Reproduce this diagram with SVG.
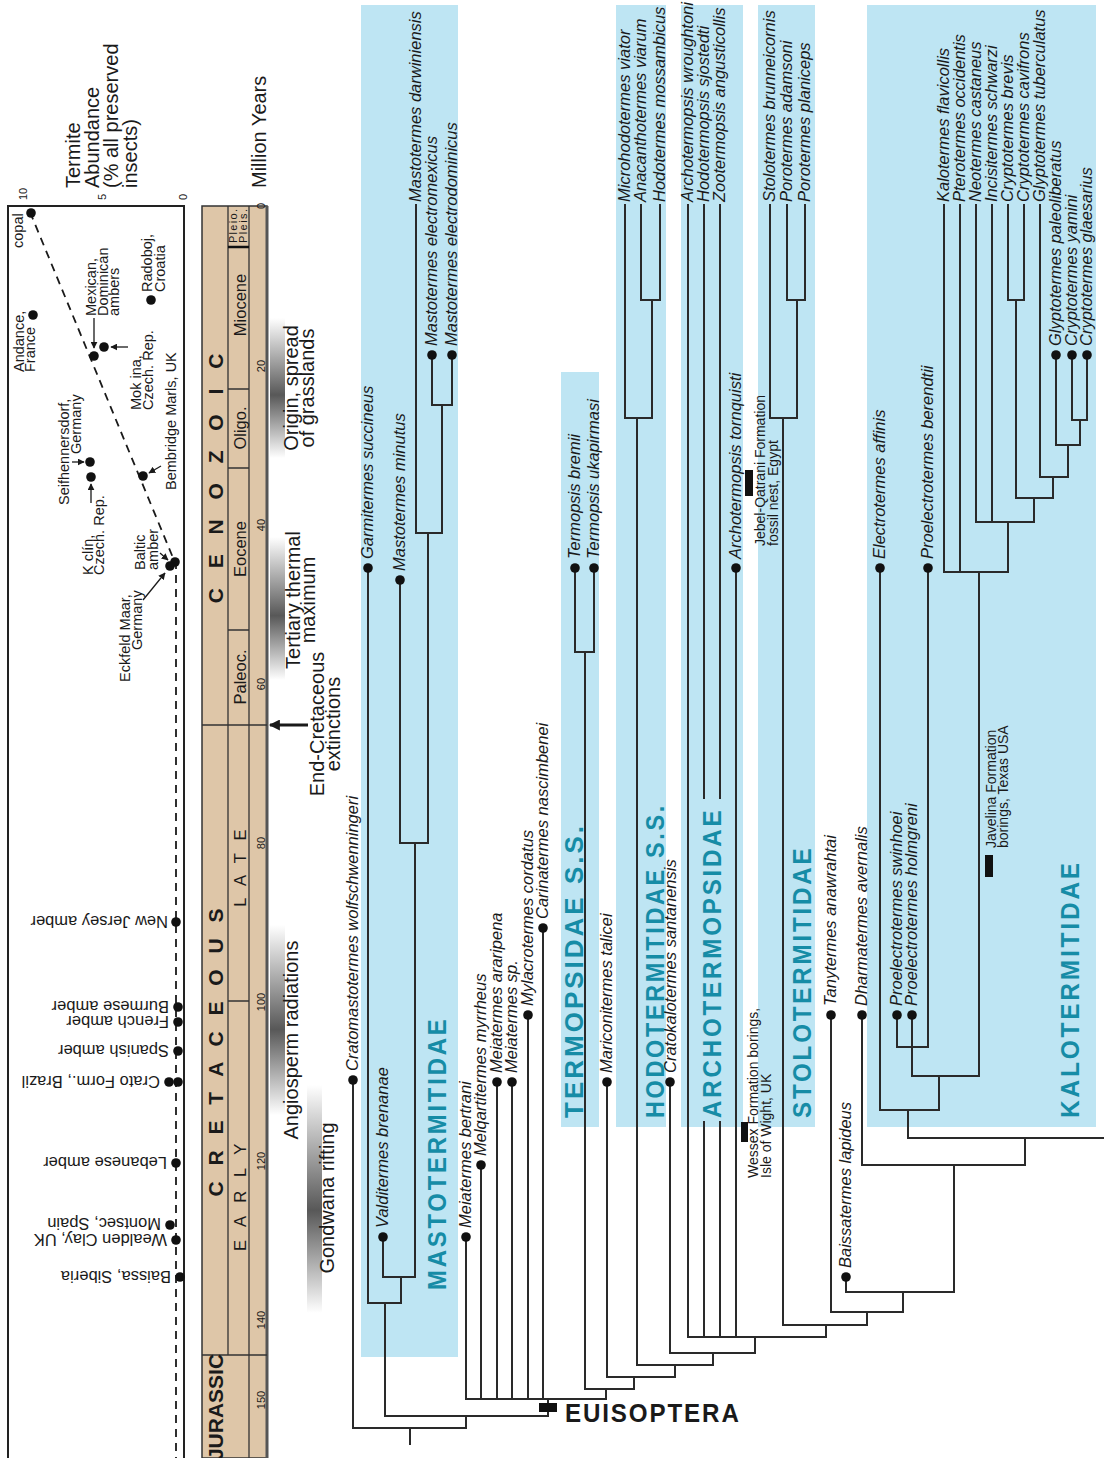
<svg xmlns="http://www.w3.org/2000/svg" width="1104" height="1458" viewBox="0 0 1104 1458">
<defs>
<style>
.ln{stroke:#2a2a2a;stroke-width:2;fill:none;stroke-linecap:square}
.lb{font-family:"Liberation Sans",Arial,sans-serif;font-style:italic;font-size:16.5px;fill:#1a1a1a}
.grp{font-family:"Liberation Sans",Arial,sans-serif;font-weight:bold;font-size:26px;fill:#168CA6;letter-spacing:3px}
.ann{font-family:"Liberation Sans",Arial,sans-serif;font-size:20px;fill:#1a1a1a}
.loc{font-family:"Liberation Sans",Arial,sans-serif;font-size:14.5px;fill:#1a1a1a}
.inv{font-family:"Liberation Sans",Arial,sans-serif;font-size:16.5px;fill:#1a1a1a}
.fm{font-family:"Liberation Sans",Arial,sans-serif;font-size:14px;fill:#1a1a1a}
.era{font-family:"Liberation Sans",Arial,sans-serif;font-weight:bold;font-size:21px;fill:#1a1a1a}
.ep{font-family:"Liberation Sans",Arial,sans-serif;font-size:16.5px;fill:#1a1a1a}
.tk{font-family:"Liberation Sans",Arial,sans-serif;font-size:11px;fill:#1a1a1a}
.box{fill:#BEE5F3}
.dot{fill:#111}
.dash{stroke:#1a1a1a;stroke-width:1.8;fill:none;stroke-dasharray:8 6}
.arr{stroke:#1a1a1a;stroke-width:1.3;fill:none;marker-end:url(#ah)}
</style>
<marker id="ah" viewBox="0 0 10 10" refX="9" refY="5" markerWidth="7" markerHeight="7" markerUnits="userSpaceOnUse" orient="auto"><path d="M0,0 L10,5 L0,10 z" fill="#1a1a1a"/></marker>
<marker id="ahb" viewBox="0 0 10 10" refX="9" refY="5" markerWidth="12" markerHeight="11" markerUnits="userSpaceOnUse" orient="auto"><path d="M0,0 L10,5 L0,10 z" fill="#1a1a1a"/></marker>
<linearGradient id="fade" x1="0" y1="0" x2="0" y2="1"><stop offset="0" stop-color="#ffffff"/><stop offset="0.55" stop-color="#585858"/><stop offset="1" stop-color="#ffffff"/></linearGradient>
</defs>
<rect width="1104" height="1458" fill="#ffffff"/>

<g id="abundance-panel">
<path d="M8 1458V206H184V1458" fill="none" stroke="#222" stroke-width="2"/>
<path class="dash" d="M30 212L176 565V1458"/>
<text class="tk" x="27" y="200" transform="rotate(-90 27 200)">10</text>
<text class="tk" x="106" y="200" transform="rotate(-90 106 200)">5</text>
<text class="tk" x="187" y="200" transform="rotate(-90 187 200)">0</text>
<text class="ann" x="80" y="188" transform="rotate(-90 80 188)">Termite</text>
<text class="ann" x="99" y="188" transform="rotate(-90 99 188)">Abundance</text>
<text class="ann" x="118" y="188" transform="rotate(-90 118 188)">(% all preserved</text>
<text class="ann" x="137" y="188" transform="rotate(-90 137 188)">insects)</text>
</g>

<g id="fossil-sites">
<circle class="dot" cx="31" cy="213" r="4.8"/>
<circle class="dot" cx="33" cy="315" r="4.8"/>
<circle class="dot" cx="94" cy="356" r="4.8"/>
<circle class="dot" cx="104" cy="347" r="4.8"/>
<circle class="dot" cx="151" cy="300" r="4.8"/>
<circle class="dot" cx="90" cy="462" r="4.8"/>
<circle class="dot" cx="91" cy="477" r="4.8"/>
<circle class="dot" cx="143" cy="476" r="4.8"/>
<circle class="dot" cx="175" cy="562" r="4.8"/>
<circle class="dot" cx="170" cy="566" r="4.8"/>
<circle class="dot" cx="176" cy="922" r="4.8"/>
<circle class="dot" cx="178" cy="1007" r="4.8"/>
<circle class="dot" cx="178" cy="1022" r="4.8"/>
<circle class="dot" cx="178" cy="1051" r="4.8"/>
<circle class="dot" cx="169" cy="1082" r="4.8"/>
<circle class="dot" cx="178" cy="1082" r="4.8"/>
<circle class="dot" cx="176" cy="1163" r="4.8"/>
<circle class="dot" cx="170" cy="1225" r="4.8"/>
<circle class="dot" cx="176" cy="1240" r="4.8"/>
<circle class="dot" cx="180" cy="1277" r="4.8"/>
<path class="arr" d="M94 318V348"/>
<path class="arr" d="M128 347H111"/>
<path class="arr" d="M161 466L149 473"/>
<path class="arr" d="M72 462H84"/>
<path class="arr" d="M91 503V484"/>
<path class="arr" d="M160 553L168 560"/>
<path class="arr" d="M143 600L165 573"/>
<text class="loc" x="23" y="248" transform="rotate(-90 23 248)">copal</text>
<text class="loc" x="24" y="372" transform="rotate(-90 24 372)">Andance,</text>
<text class="loc" x="35" y="372" transform="rotate(-90 35 372)">France</text>
<text class="loc" x="96" y="316" transform="rotate(-90 96 316)">Mexican,</text>
<text class="loc" x="108" y="316" transform="rotate(-90 108 316)">Dominican</text>
<text class="loc" x="119" y="316" transform="rotate(-90 119 316)">ambers</text>
<text class="loc" x="141" y="410" transform="rotate(-90 141 410)">Mok ina,</text>
<text class="loc" x="153" y="410" transform="rotate(-90 153 410)">Czech. Rep.</text>
<text class="loc" x="152" y="292" transform="rotate(-90 152 292)">Radoboj,</text>
<text class="loc" x="165" y="292" transform="rotate(-90 165 292)">Croatia</text>
<text class="loc" x="176" y="490" transform="rotate(-90 176 490)">Bembridge Marls, UK</text>
<text class="loc" x="69" y="505" transform="rotate(-90 69 505)">Seifhennersdorf,</text>
<text class="loc" x="81" y="454" transform="rotate(-90 81 454)">Germany</text>
<text class="loc" x="93" y="575" transform="rotate(-90 93 575)">K clín,</text>
<text class="loc" x="104" y="575" transform="rotate(-90 104 575)">Czech. Rep.</text>
<text class="loc" x="145" y="570" transform="rotate(-90 145 570)">Baltic</text>
<text class="loc" x="158" y="570" transform="rotate(-90 158 570)">amber</text>
<text class="loc" x="130" y="682" transform="rotate(-90 130 682)">Eckfeld Maar,</text>
<text class="loc" x="142" y="650" transform="rotate(-90 142 650)">Germany</text>
<text class="inv" transform="translate(168 916) rotate(180)">New Jersey amber</text>
<text class="inv" transform="translate(169 1001) rotate(180)">Burmese amber</text>
<text class="inv" transform="translate(169 1016) rotate(180)">French amber</text>
<text class="inv" transform="translate(169 1045) rotate(180)">Spanish amber</text>
<text class="inv" transform="translate(160 1076) rotate(180)">Crato Form., Brazil</text>
<text class="inv" transform="translate(167 1157) rotate(180)">Lebanese amber</text>
<text class="inv" transform="translate(161 1218) rotate(180)">Montsec, Spain</text>
<text class="inv" transform="translate(167 1234) rotate(180)">Wealden Clay, UK</text>
<text class="inv" transform="translate(171 1271) rotate(180)">Baissa, Siberia</text>
</g>

<g id="timescale">
<rect x="202" y="206" width="65" height="1252" fill="#DEC6A8" stroke="#333" stroke-width="1.5"/>
<line x1="267" y1="206" x2="267" y2="1458" stroke="#555" stroke-width="3"/>
<path d="M228 206V1355M249 206V1458M202 725H267M202 1355H267M228 389H249M228 468H249M228 630H249M228 1001H249" stroke="#333" stroke-width="1.3" fill="none"/>
<path d="M228 247H249" stroke="#111" stroke-width="2.5"/>
<text class="tk" x="237" y="226" text-anchor="middle" textLength="34" transform="rotate(-90 237 226)">Pleio.</text>
<text class="tk" x="247" y="226" text-anchor="middle" textLength="34" transform="rotate(-90 247 226)">Pleis.</text>
<text class="ep" x="246" y="305" text-anchor="middle" transform="rotate(-90 246 305)">Miocene</text>
<text class="ep" x="246" y="428" text-anchor="middle" transform="rotate(-90 246 428)">Oligo.</text>
<text class="ep" x="246" y="549" text-anchor="middle" transform="rotate(-90 246 549)">Eocene</text>
<text class="ep" x="246" y="677" text-anchor="middle" transform="rotate(-90 246 677)">Paleoc.</text>
<text class="ep" x="246" y="866" text-anchor="middle" letter-spacing="4.2" transform="rotate(-90 246 866)">L A T E</text>
<text class="ep" x="246" y="1195" text-anchor="middle" letter-spacing="4.7" transform="rotate(-90 246 1195)">E A R L Y</text>
<text class="era" x="223" y="475" text-anchor="middle" letter-spacing="7" transform="rotate(-90 223 475)">C E N O Z O I C</text>
<text class="era" x="223" y="1050" text-anchor="middle" letter-spacing="5" transform="rotate(-90 223 1050)">C R E T A C E O U S</text>
<text class="era" x="223" y="1407" text-anchor="middle" font-size="19" transform="rotate(-90 223 1407)">JURASSIC</text>
<text class="tk" x="265" y="206" text-anchor="middle" transform="rotate(-90 265 206)">0</text>
<text class="tk" x="265" y="366" text-anchor="middle" transform="rotate(-90 265 366)">20</text>
<text class="tk" x="265" y="525" text-anchor="middle" transform="rotate(-90 265 525)">40</text>
<text class="tk" x="265" y="684" text-anchor="middle" transform="rotate(-90 265 684)">60</text>
<text class="tk" x="265" y="843" text-anchor="middle" transform="rotate(-90 265 843)">80</text>
<text class="tk" x="265" y="1002" text-anchor="middle" transform="rotate(-90 265 1002)">100</text>
<text class="tk" x="265" y="1161" text-anchor="middle" transform="rotate(-90 265 1161)">120</text>
<text class="tk" x="265" y="1320" text-anchor="middle" transform="rotate(-90 265 1320)">140</text>
<text class="tk" x="265" y="1400" text-anchor="middle" transform="rotate(-90 265 1400)">150</text>
<text class="ann" x="266" y="188" transform="rotate(-90 266 188)">Million Years</text>
</g>

<g id="events">
<rect x="270" y="318" width="15" height="140" fill="url(#fade)"/>
<rect x="270" y="537" width="15" height="143" fill="url(#fade)"/>
<rect x="270" y="925" width="15" height="190" fill="url(#fade)"/>
<rect x="307" y="1085" width="15" height="228" fill="url(#fade)"/>
<text class="ann" x="298" y="388" text-anchor="middle" transform="rotate(-90 298 388)">Origin, spread</text>
<text class="ann" x="314" y="388" text-anchor="middle" transform="rotate(-90 314 388)">of grasslands</text>
<text class="ann" x="300" y="600" text-anchor="middle" transform="rotate(-90 300 600)">Tertiary thermal</text>
<text class="ann" x="315" y="600" text-anchor="middle" transform="rotate(-90 315 600)">maximum</text>
<text class="ann" x="324" y="724" text-anchor="middle" transform="rotate(-90 324 724)">End-Cretaceous</text>
<text class="ann" x="340" y="724" text-anchor="middle" transform="rotate(-90 340 724)">extinctions</text>
<path d="M308 725H270" stroke="#1a1a1a" stroke-width="3" fill="none" marker-end="url(#ahb)"/>
<text class="ann" x="298" y="1040" text-anchor="middle" transform="rotate(-90 298 1040)">Angiosperm radiations</text>
<text class="ann" x="334" y="1198" text-anchor="middle" transform="rotate(-90 334 1198)">Gondwana rifting</text>
</g>

<g id="clade-boxes">
<rect class="box" x="361" y="5" width="97" height="1352"/>
<rect class="box" x="561" y="372" width="38" height="755"/>
<rect class="box" x="616" y="5" width="50" height="1122"/>
<rect class="box" x="681" y="5" width="62" height="1122"/>
<rect class="box" x="758" y="5" width="57" height="1122"/>
<rect class="box" x="867" y="5" width="229" height="1122"/>
</g>

<g id="connectors">
<path class="ln" d="M353 1080V1428M368 568V1303M400 580V843M416 205V533M432 355V405M452 355V405M432 405H452M442 405V533M416 533H442M428 533V843M400 843H428M415 843V1277M383 1237V1277M383 1277H415M401 1277V1303M368 1303H401M385 1303V1416
M466 1237V1399M481 1165V1399M497 1082V1399M512 1082V1399M528 1015V1399M543 928V1399M466 1399H606M548 1399V1416M385 1416H548M466 1416V1428M353 1428H466M410 1428V1444
M575 568V652M594 568V652M575 652H594M585 652V1389M585 1389H634M606 1389V1399M607 1082V1377M607 1377H675M634 1377V1389
M625 205V418M641 205V300M660 205V300M641 300H660M652 300V418M625 418H652M637 418V1365M637 1365H713M675 1365V1377M670 1082V1353M670 1353H755M713 1353V1365
M688 205V1337M704 205V798M704 1122V1337M720 205V798M720 1122V1337M736 568V1337M688 1337H826M755 1337V1353
M770 205V418M787 205V300M805 205V300M787 300H805M797 300V418M770 418H797M783 418V1325M783 1325H867M826 1325V1337
M831 1015V1312M831 1312H903M867 1312V1325M846 1277V1292M846 1292H954M903 1292V1312M862 1015V1165M862 1165H1025M954 1165V1292M908 1138H1104M1025 1138V1165
M880 568V1110M880 1110H939M908 1110V1138M939 1076V1110M912 1076H979M912 1015V1076M897 1015V1047M928 568V1047M897 1047H928M979 572V1076
M944 205V572M960 205V572M944 572H1008M1008 522V572M976 205V522M992 205V522M976 522H1034M1008 205V300M1024 205V300M1008 300H1024M1016 300V498M1040 205V477M1056 355V445M1072 355V420M1087 355V420M1072 420H1087M1080 420V445M1056 445H1080M1068 445V477M1040 477H1068M1053 477V498M1016 498H1053M1034 498V522"/>
<rect x="539" y="1403" width="18" height="9" fill="#111"/>
<rect x="745" y="470" width="8" height="26" fill="#111"/>
<rect x="741" y="1122" width="7" height="20" fill="#111"/>
<rect x="985" y="855" width="8" height="22" fill="#111"/>
</g>

<g id="taxon-dots">
<circle class="dot" cx="353" cy="1080" r="4.8"/>
<circle class="dot" cx="368" cy="568" r="4.8"/>
<circle class="dot" cx="400" cy="580" r="4.8"/>
<circle class="dot" cx="432" cy="355" r="4.8"/>
<circle class="dot" cx="452" cy="355" r="4.8"/>
<circle class="dot" cx="383" cy="1237" r="4.8"/>
<circle class="dot" cx="466" cy="1237" r="4.8"/>
<circle class="dot" cx="481" cy="1165" r="4.8"/>
<circle class="dot" cx="497" cy="1082" r="4.8"/>
<circle class="dot" cx="512" cy="1082" r="4.8"/>
<circle class="dot" cx="528" cy="1015" r="4.8"/>
<circle class="dot" cx="543" cy="928" r="4.8"/>
<circle class="dot" cx="575" cy="568" r="4.8"/>
<circle class="dot" cx="594" cy="568" r="4.8"/>
<circle class="dot" cx="607" cy="1082" r="4.8"/>
<circle class="dot" cx="670" cy="1082" r="4.8"/>
<circle class="dot" cx="736" cy="568" r="4.8"/>
<circle class="dot" cx="831" cy="1015" r="4.8"/>
<circle class="dot" cx="846" cy="1277" r="4.8"/>
<circle class="dot" cx="862" cy="1015" r="4.8"/>
<circle class="dot" cx="880" cy="568" r="4.8"/>
<circle class="dot" cx="928" cy="568" r="4.8"/>
<circle class="dot" cx="897" cy="1015" r="4.8"/>
<circle class="dot" cx="912" cy="1015" r="4.8"/>
<circle class="dot" cx="1056" cy="355" r="4.8"/>
<circle class="dot" cx="1072" cy="355" r="4.8"/>
<circle class="dot" cx="1087" cy="355" r="4.8"/>
</g>

<g id="taxon-labels">
<text class="lb" x="358" y="1071" transform="rotate(-90 358 1071)">Cratomastotermes wolfschwenningeri</text>
<text class="lb" x="373" y="559" transform="rotate(-90 373 559)">Garmitermes succineus</text>
<text class="lb" x="405" y="571" transform="rotate(-90 405 571)">Mastotermes minutus</text>
<text class="lb" x="421" y="202" transform="rotate(-90 421 202)">Mastotermes darwiniensis</text>
<text class="lb" x="437" y="346" transform="rotate(-90 437 346)">Mastotermes electromexicus</text>
<text class="lb" x="457" y="346" transform="rotate(-90 457 346)">Mastotermes electrodominicus</text>
<text class="lb" x="388" y="1228" transform="rotate(-90 388 1228)">Valditermes brenanae</text>
<text class="lb" x="471" y="1228" transform="rotate(-90 471 1228)">Meiatermes bertrani</text>
<text class="lb" x="486" y="1156" transform="rotate(-90 486 1156)">Melqartitermes myrrheus</text>
<text class="lb" x="502" y="1073" transform="rotate(-90 502 1073)">Meiatermes araripena</text>
<text class="lb" x="517" y="1073" transform="rotate(-90 517 1073)">Meiatermes sp.</text>
<text class="lb" x="533" y="1006" transform="rotate(-90 533 1006)">Mylacrotermes cordatus</text>
<text class="lb" x="548" y="919" transform="rotate(-90 548 919)">Carinatermes nascimbenei</text>
<text class="lb" x="580" y="559" transform="rotate(-90 580 559)">Termopsis bremii</text>
<text class="lb" x="599" y="559" transform="rotate(-90 599 559)">Termopsis ukapirmasi</text>
<text class="lb" x="612" y="1073" transform="rotate(-90 612 1073)">Mariconitermes talicei</text>
<text class="lb" x="630" y="202" transform="rotate(-90 630 202)">Microhodotermes viator</text>
<text class="lb" x="646" y="202" transform="rotate(-90 646 202)">Anacanthotermes viarum</text>
<text class="lb" x="665" y="202" transform="rotate(-90 665 202)">Hodotermes mossambicus</text>
<text class="lb" x="676" y="1073" transform="rotate(-90 676 1073)">Cratokalotermes santanensis</text>
<text class="lb" x="693" y="202" transform="rotate(-90 693 202)">Archotermopsis wroughtoni</text>
<text class="lb" x="709" y="202" transform="rotate(-90 709 202)">Hodotermopsis sjostedti</text>
<text class="lb" x="725" y="202" transform="rotate(-90 725 202)">Zootermopsis angusticollis</text>
<text class="lb" x="741" y="559" transform="rotate(-90 741 559)">Archotermopsis tornquisti</text>
<text class="lb" x="775" y="202" transform="rotate(-90 775 202)">Stolotermes brunneicornis</text>
<text class="lb" x="792" y="202" transform="rotate(-90 792 202)">Porotermes adamsoni</text>
<text class="lb" x="810" y="202" transform="rotate(-90 810 202)">Porotermes planiceps</text>
<text class="lb" x="836" y="1006" transform="rotate(-90 836 1006)">Tanytermes anawrahtai</text>
<text class="lb" x="851" y="1268" transform="rotate(-90 851 1268)">Baissatermes lapideus</text>
<text class="lb" x="867" y="1006" transform="rotate(-90 867 1006)">Dharmatermes avernalis</text>
<text class="lb" x="885" y="559" transform="rotate(-90 885 559)">Electrotermes affinis</text>
<text class="lb" x="933" y="559" transform="rotate(-90 933 559)">Proelectrotermes berendtii</text>
<text class="lb" x="902" y="1006" transform="rotate(-90 902 1006)">Proelectrotermes swinhoei</text>
<text class="lb" x="917" y="1006" transform="rotate(-90 917 1006)">Proelectrotermes holmgreni</text>
<text class="lb" x="949" y="202" transform="rotate(-90 949 202)">Kalotermes flavicollis</text>
<text class="lb" x="965" y="202" transform="rotate(-90 965 202)">Pterotermes occidentis</text>
<text class="lb" x="981" y="202" transform="rotate(-90 981 202)">Neotermes castaneus</text>
<text class="lb" x="997" y="202" transform="rotate(-90 997 202)">Incisitermes schwarzi</text>
<text class="lb" x="1013" y="202" transform="rotate(-90 1013 202)">Cryptotermes brevis</text>
<text class="lb" x="1029" y="202" transform="rotate(-90 1029 202)">Cryptotermes cavifrons</text>
<text class="lb" x="1045" y="202" transform="rotate(-90 1045 202)">Glyptotermes tuberculatus</text>
<text class="lb" x="1061" y="346" transform="rotate(-90 1061 346)">Glyptotermes paleoliberatus</text>
<text class="lb" x="1077" y="346" transform="rotate(-90 1077 346)">Cryptotermes yamini</text>
<text class="lb" x="1092" y="346" transform="rotate(-90 1092 346)">Cryptotermes glaesarius</text>
</g>

<g id="formation-notes">
<text class="fm" x="765" y="546" transform="rotate(-90 765 546)">Jebel-Qatrani Formation</text>
<text class="fm" x="778" y="546" transform="rotate(-90 778 546)">fossil nest, Egypt</text>
<text class="fm" x="758" y="1178" transform="rotate(-90 758 1178)">Wessex Formation borings,</text>
<text class="fm" x="771" y="1178" transform="rotate(-90 771 1178)">Isle of Wight, UK</text>
<text class="fm" x="996" y="848" transform="rotate(-90 996 848)">Javelina Formation</text>
<text class="fm" x="1008" y="848" transform="rotate(-90 1008 848)">borings, Texas USA</text>
</g>

<g id="clade-names">
<text class="grp" transform="translate(446 1290) rotate(-90) scale(0.92 1)">MASTOTERMITIDAE</text>
<text class="grp" letter-spacing="4" transform="translate(583 1118) rotate(-90)">TERMOPSIDAE S.S.</text>
<text class="grp" transform="translate(664 1118) rotate(-90) scale(0.9 1)">HODOTERMITIDAE S.S.</text>
<text class="grp" transform="translate(721 1118) rotate(-90) scale(0.93 1)">ARCHOTERMOPSIDAE</text>
<text class="grp" transform="translate(811 1118) rotate(-90) scale(0.93 1)">STOLOTERMITIDAE</text>
<text class="grp" transform="translate(1079 1118) rotate(-90) scale(0.94 1)">KALOTERMITIDAE</text>
<text transform="translate(565 1422) scale(0.93 1)" font-family="Liberation Sans, Arial, sans-serif" font-weight="bold" font-size="26" letter-spacing="2" fill="#1a1a1a">EUISOPTERA</text>
</g>
</svg>
